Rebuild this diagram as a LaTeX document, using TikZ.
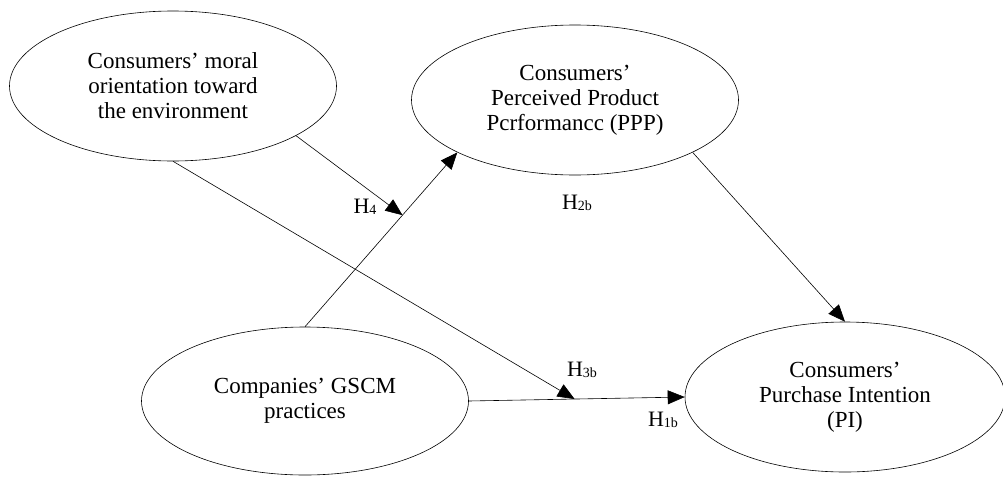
\documentclass[tikz,border=0pt]{standalone}
\usepackage{fontspec}
\setmainfont{Liberation Serif}
\usetikzlibrary{arrows.meta,calc,shapes.geometric}
\newcommand{\hyp}[1]{H\raisebox{-1.5pt}{\fontsize{14}{14}\selectfont #1}}
\begin{document}
\begin{tikzpicture}[x=1pt, y=-1pt,
        construct/.style={ellipse, draw, line width=0.6pt, minimum width=327pt, minimum height=150pt,
            align=center, inner sep=0pt, font=\fontsize{23}{25}\selectfont},
        path/.style={draw, line width=0.6pt, -{Triangle[length=17pt,width=14pt]}},
        hlabel/.style={inner sep=0pt, font=\fontsize{22}{25}\selectfont}]
    \useasboundingbox (0,0) rectangle (1003,477);

    \node[construct] (moral) at (173,86) {Consumers’ moral\\orientation toward\\the environment};
    \node[construct] (ppp) at (575,100) {Consumers’\\Perceived Product\\Pcrformancc (PPP)};
    \node[construct, minimum height=148pt] (gscm) at (305,401) {Companies’ GSCM\\practices};
    \node[construct, minimum width=320pt] (pi) at (845,397) {Consumers’\\Purchase Intention\\(PI)};

    \coordinate (m4) at ($(gscm.north)!0.64!(ppp.204)$);
    \coordinate (m3) at ($(gscm.east)!0.49!(pi.west)$);

    \draw[path] (gscm.north) -- (ppp.204);
    \draw[path] (gscm.east) -- (pi.west);
    \draw[path] (ppp.336) -- (pi.north);
    \draw[path] (moral.338) -- (m4);
    \draw[path] (moral.south) -- (m3);

    \node[hlabel] (h4) at (365,207) {\hyp{4}};
    \node[hlabel] (h2b) at (577,203) {\hyp{2b}};
    \node[hlabel] (h3b) at (582,370) {\hyp{3b}};
    \node[hlabel] (h1b) at (663,420) {\hyp{1b}};
\end{tikzpicture}
\end{document}
